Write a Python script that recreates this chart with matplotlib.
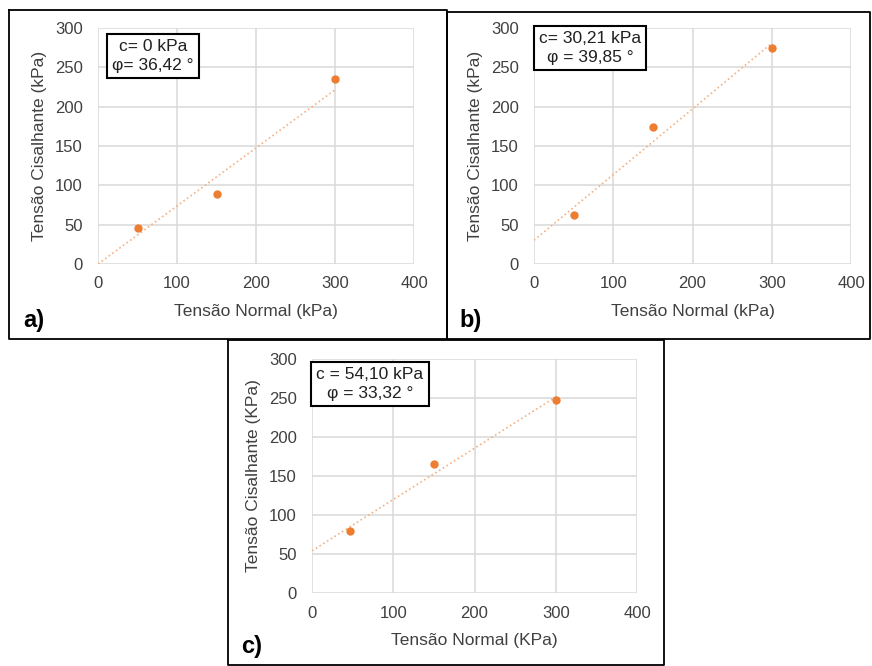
import numpy as np
import matplotlib
matplotlib.use("Agg")
import matplotlib.pyplot as plt
from matplotlib.lines import Line2D

plt.rcParams['font.family'] = ['Liberation Sans', 'DejaVu Sans']

# normal stress (kPa) and shear stress (kPa) for each test
x_a = [50, 150, 300]
y_a = [46, 89, 235]
x_b = [50, 150, 300]
y_b = [62, 174, 275]
x_c = [47, 150, 300]
y_c = [79, 166, 248]

# cohesion (kPa) and friction angle (deg)
coh = [0, 30.21, 54.10]
phi = [36.42, 39.85, 33.32]
box_txt = ["c= 0 kPa\nφ= 36,42 °",
           "c= 30,21 kPa\nφ = 39,85 °",
           "c = 54,10 kPa\nφ = 33,32 °"]
xlabels = ["Tensão Normal (kPa)", "Tensão Normal (kPa)", "Tensão Normal (KPa)"]
ylabels = ["Tensão Cisalhante (kPa)", "Tensão Cisalhante (kPa)", "Tensão Cisalhante (KPa)"]
tags = ["a)", "b)", "c)"]

W, H = 872, 666
fig = plt.figure(figsize=(W / 100, H / 100), dpi=100)

def fx(px):
    return px / W

def fy(py):
    return 1 - py / H

# axes rectangles in pixels: left, top, right, bottom
rects = [(98, 28, 414, 264), (534, 28, 851, 264), (312, 359, 637, 593)]
# panel frames in pixels
frames = [(9, 10, 447, 339), (447, 12, 870, 339), (228, 340, 664, 665)]
tag_pos = [(34, 320), (471, 320), (252, 647)]
box_pos = [(153, 56), (590, 48), (370, 384)]

orange = "#ED7D31"
grey = "#D9D9D9"
txtc = "#404040"

data = [(x_a, y_a), (x_b, y_b), (x_c, y_c)]

for i in range(3):
    l, t, r, b = rects[i]
    ax = fig.add_axes([fx(l), fy(b), fx(r) - fx(l), fy(t) - fy(b)])
    xs, ys = data[i]
    xl = np.array([0, 300])
    ax.plot(xl, coh[i] + np.tan(np.radians(phi[i])) * xl, ':', color="#F4B183", lw=1.2, zorder=2)
    ax.plot(xs, ys, 'o', color=orange, ms=5, zorder=3, clip_on=False)
    ax.set_xlim(0, 400)
    ax.set_ylim(0, 300)
    ax.set_xticks(range(0, 401, 100))
    ax.set_yticks(range(0, 301, 50))
    ax.grid(True, color=grey, lw=1.1)
    ax.set_axisbelow(True)
    for s in ax.spines.values():
        s.set_visible(False)
    ax.tick_params(length=0, labelsize=12, labelcolor=txtc)
    ax.tick_params(axis='x', pad=9)
    ax.tick_params(axis='y', pad=11)
    ax.set_xlabel(xlabels[i], fontsize=12.5, color=txtc, labelpad=9)
    ax.set_ylabel(ylabels[i], fontsize=12.5, color=txtc, labelpad=6)

    bx, by = box_pos[i]
    fig.text(fx(bx), fy(by), box_txt[i], ha='center', va='center', fontsize=12.5,
             color="#202020", linespacing=1.3,
             bbox=dict(boxstyle='square,pad=0.3', fc='white', ec='black', lw=1.5))

    tx, ty = tag_pos[i]
    fig.text(fx(tx), fy(ty), tags[i], ha='center', va='center', fontsize=17,
             fontweight='bold', color='black')

    fl, ft, fr, fb = frames[i]
    xsf = [fx(fl), fx(fr), fx(fr), fx(fl), fx(fl)]
    ysf = [fy(ft), fy(ft), fy(fb), fy(fb), fy(ft)]
    fig.add_artist(Line2D(xsf, ysf, color='black', lw=1.3, transform=fig.transFigure))

fig.savefig("out.png", dpi=100, facecolor='white')
